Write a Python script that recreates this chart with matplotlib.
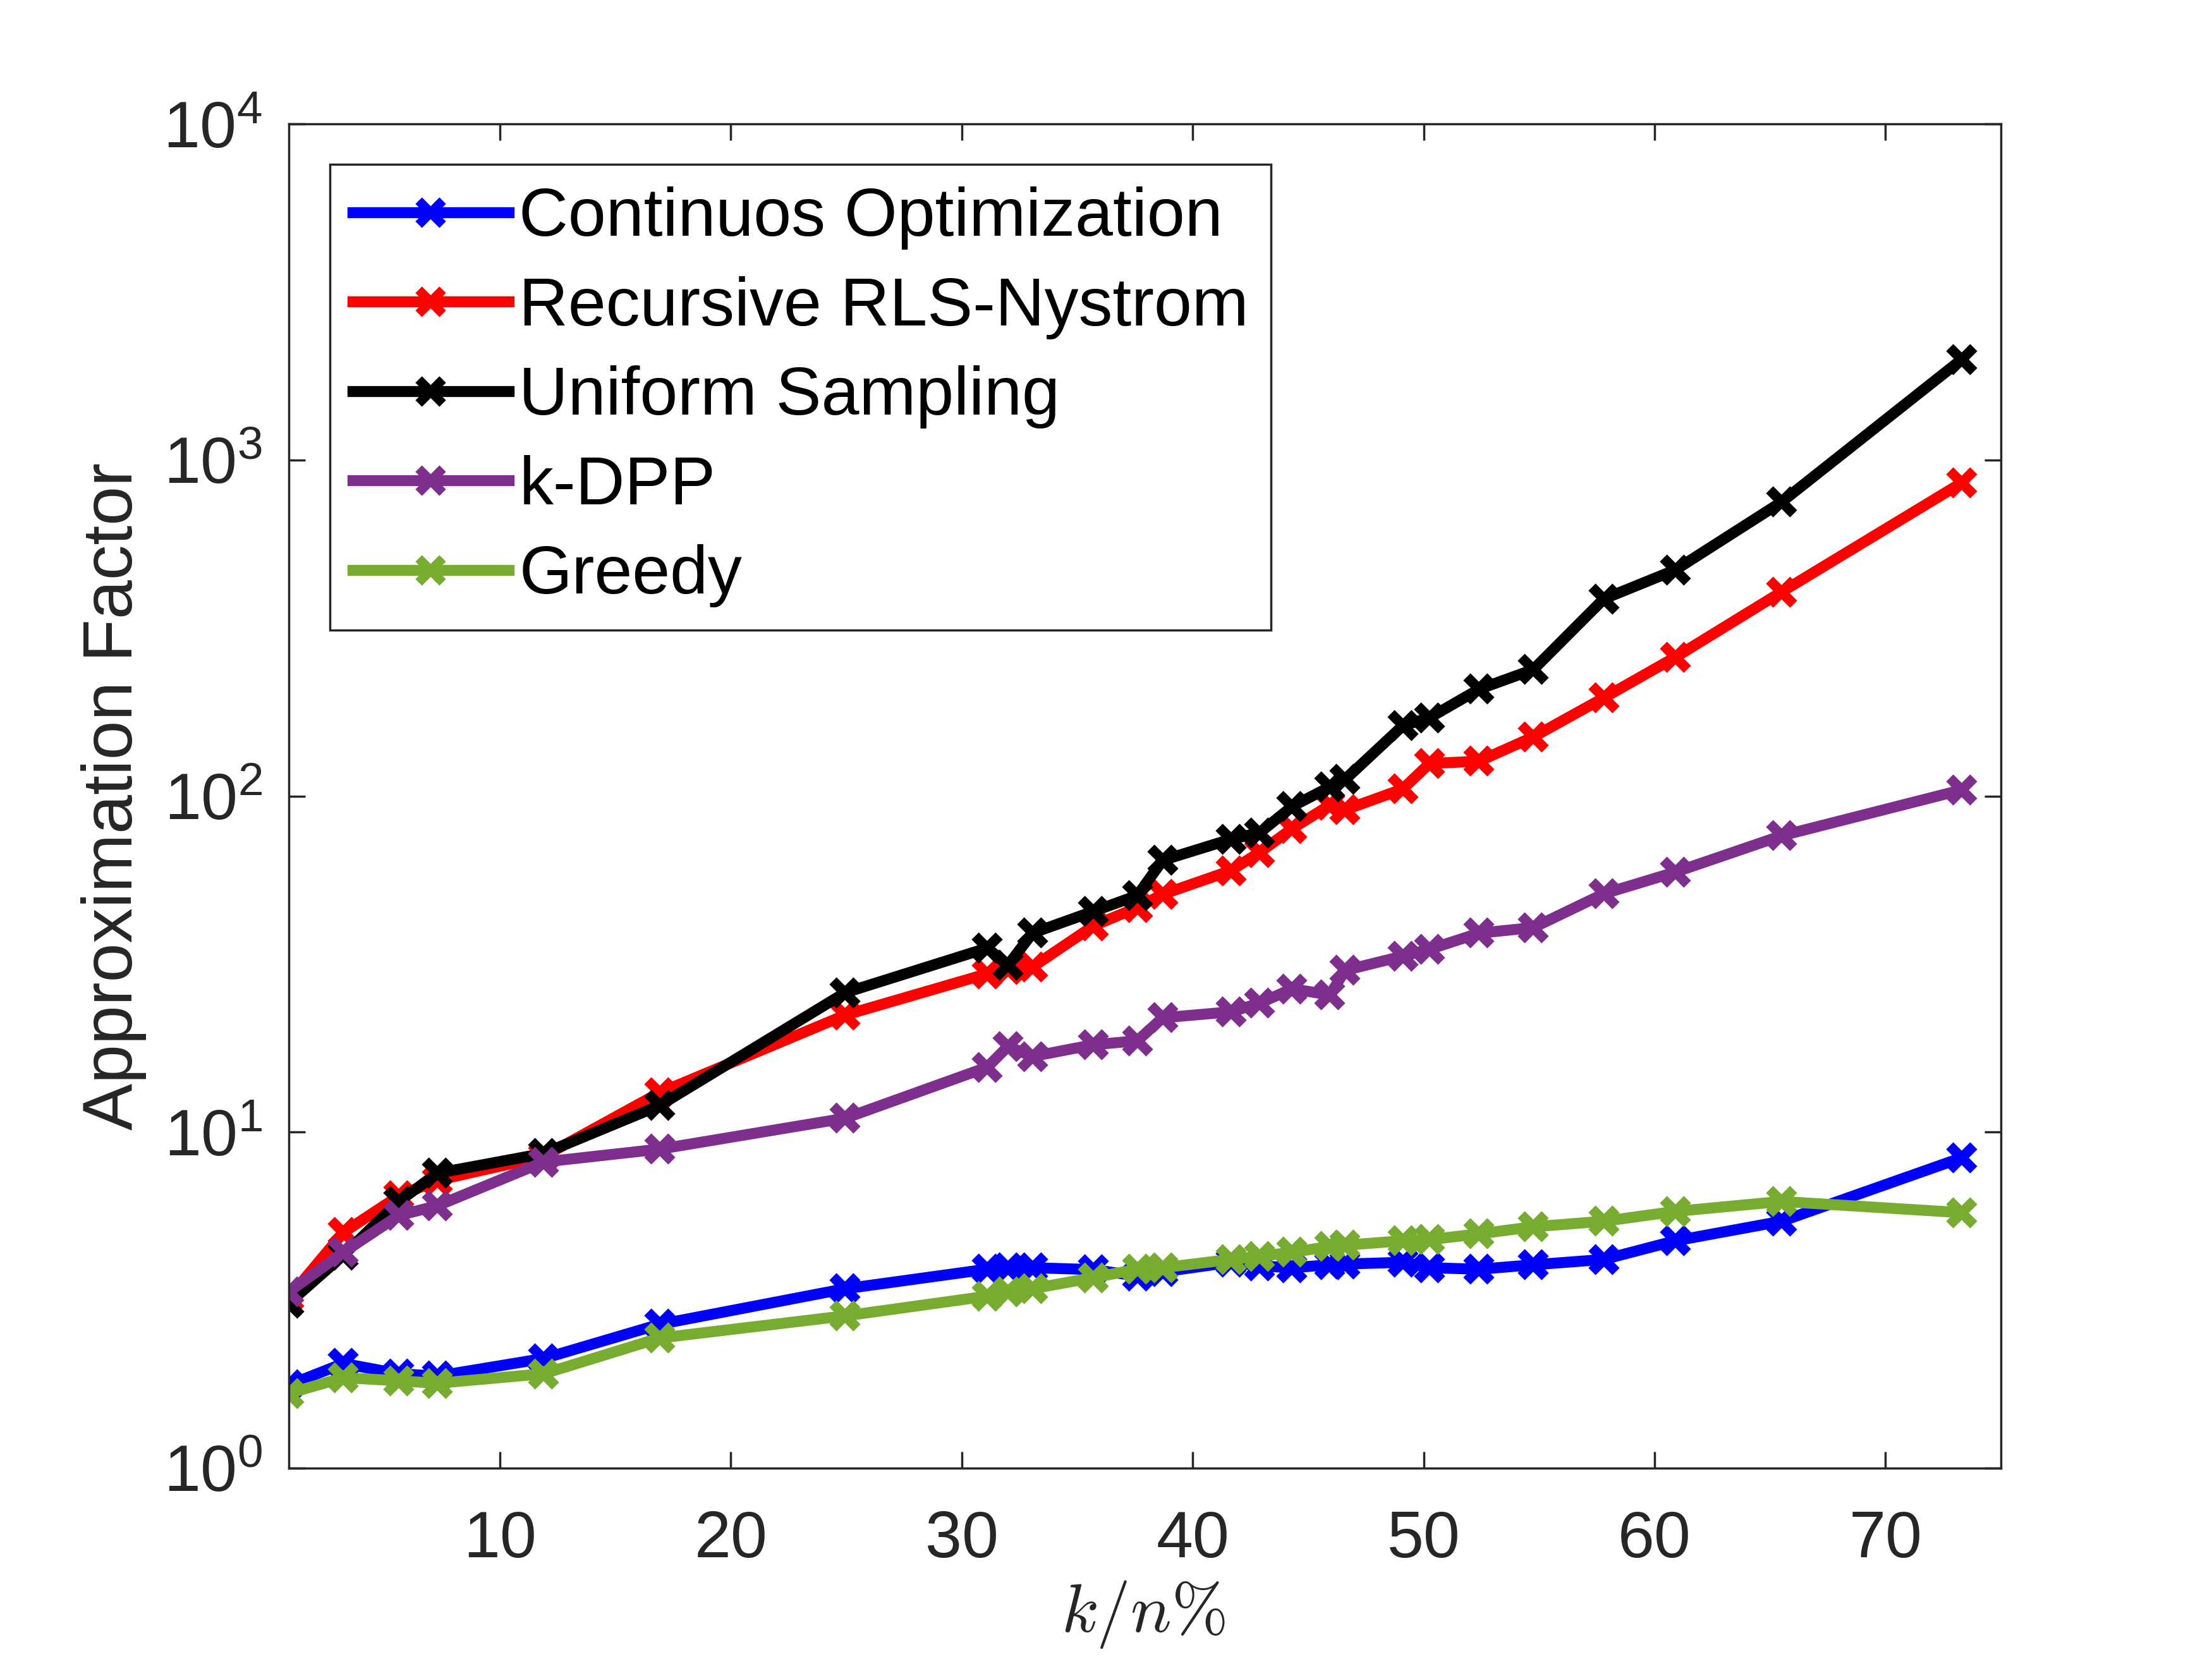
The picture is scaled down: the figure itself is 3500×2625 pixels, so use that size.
import matplotlib
matplotlib.use("Agg")
import matplotlib.pyplot as plt
from matplotlib.ticker import FixedLocator, FixedFormatter, NullLocator

plt.rcParams['font.family'] = ['Liberation Sans', 'DejaVu Sans']
plt.rcParams['mathtext.fontset'] = 'custom'
plt.rcParams['mathtext.rm'] = 'Liberation Sans'
plt.rcParams['mathtext.it'] = 'Liberation Sans:italic'

# ---- data (k/n %, approximation factor) ----
k_over_n = [0.86, 3.22, 5.62, 7.29, 11.89, 16.91, 24.95, 31.1, 32.0, 33.06, 35.7, 37.6,
            38.7, 41.65, 42.9, 44.3, 45.94, 46.6, 49.1, 50.25, 52.4, 54.75, 57.8,
            60.9, 65.5, 73.3]

continuous_opt = [1.77, 2.05, 1.91, 1.88, 2.12, 2.68, 3.42, 3.91, 3.95, 3.95, 3.9, 3.73,
                  3.84, 4.1, 4.0, 3.95, 4.03, 4.05, 4.1, 3.95, 3.91, 4.03, 4.18,
                  4.75, 5.43, 8.39]

recursive_rls = [3.22, 5.03, 6.46, 7.19, 8.47, 13.1, 22.3, 29.6, 30.5, 31.0, 41.1, 46.6,
                 51.0, 60.0, 68.0, 80.0, 94.0, 91.0, 105.0, 125.0, 127.0, 150.0, 196.0,
                 259.0, 405.0, 855.0]

uniform = [3.10, 4.31, 6.22, 7.55, 8.64, 12.0, 26.0, 35.3, 31.4, 39.1, 45.4, 50.6,
           64.4, 74.4, 77.8, 93.1, 106.5, 112.0, 162.0, 171.0, 208.0, 238.0, 386.0,
           471.0, 750.0, 1992.0]

kdpp = [3.35, 4.39, 5.65, 6.04, 8.15, 8.90, 11.0, 15.6, 18.0, 16.8, 18.2, 18.7,
        21.9, 22.8, 24.2, 26.7, 25.6, 30.3, 33.4, 35.0, 39.1, 40.6, 51.2,
        59.4, 76.2, 104.3]

greedy = [1.67, 1.86, 1.82, 1.79, 1.91, 2.44, 2.84, 3.25, 3.35, 3.42, 3.69, 3.91,
          3.95, 4.18, 4.27, 4.39, 4.57, 4.61, 4.75, 4.79, 4.98, 5.23, 5.43,
          5.81, 6.22, 5.76]

series_names = ['Continuos Optimization', 'Recursive RLS-Nystrom', 'Uniform Sampling',
                'k-DPP', 'Greedy']
series_values = [continuous_opt, recursive_rls, uniform, kdpp, greedy]
series_colors = ['#0000FF', '#FF0000', '#000000', '#7E2F8E', '#77AC30']

x_ticks = [10, 20, 30, 40, 50, 60, 70]
y_ticks = [1, 10, 100, 1000, 10000]
y_tick_labels = [r'$\mathregular{10^{0}}$', r'$\mathregular{10^{1}}$', r'$\mathregular{10^{2}}$',
                 r'$\mathregular{10^{3}}$', r'$\mathregular{10^{4}}$']

axis_gray = (0.15, 0.15, 0.15)

fig = plt.figure(figsize=(14, 10.5), dpi=250)
ax = fig.add_axes([0.1306, 0.115, 0.774, 0.8103])

for name, vals, col in zip(series_names, series_values, series_colors):
    ax.plot(k_over_n, vals, color=col, linewidth=5.0, marker='x', markersize=11,
            markeredgewidth=4.6, label=name)

ax.set_yscale('log')
ax.set_xlim(k_over_n[0], 75)
ax.set_ylim(1, 1e4)

ax.xaxis.set_major_locator(FixedLocator(x_ticks))
ax.yaxis.set_major_locator(FixedLocator(y_ticks))
ax.yaxis.set_major_formatter(FixedFormatter(y_tick_labels))
ax.yaxis.set_minor_locator(NullLocator())
ax.xaxis.set_minor_locator(NullLocator())

for sp in ax.spines.values():
    sp.set_color(axis_gray)
    sp.set_linewidth(1.0)

ax.tick_params(axis='both', which='major', direction='in', length=7.5, width=1.0,
               colors=axis_gray, labelsize=30, top=True, right=True)
ax.tick_params(axis='x', pad=19)
ax.tick_params(axis='y', pad=12)

ax.set_ylabel('Approximation Factor', fontsize=32, color=axis_gray)
ax.yaxis.set_label_coords(-0.083, 0.5)
ax.set_xlabel(r'$k/n\%$', fontsize=31, color=axis_gray, math_fontfamily='cm')
ax.xaxis.set_label_coords(0.499, -0.082)

leg = ax.legend(loc='upper left', bbox_to_anchor=(0.024, 0.97), borderaxespad=0,
                fontsize=31, handlelength=2.3, handletextpad=0.15, labelspacing=0.385,
                borderpad=0.33, fancybox=False, framealpha=1.0, edgecolor=axis_gray)
leg.get_frame().set_linewidth(1.0)
for h in leg.legend_handles:
    h.set_markersize(11)
    h.set_markeredgewidth(4.2)

fig.savefig('out.png', dpi=250, facecolor='white')
